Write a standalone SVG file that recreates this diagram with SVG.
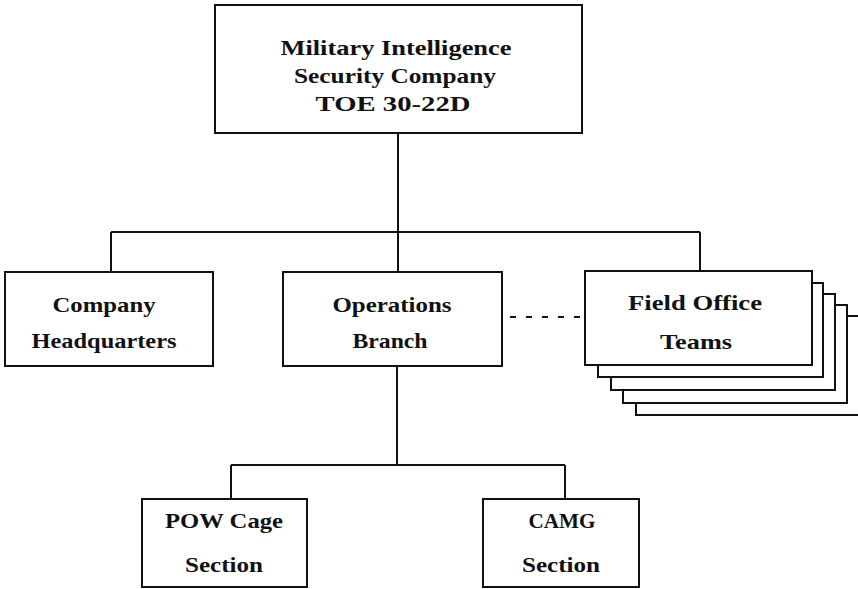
<svg xmlns="http://www.w3.org/2000/svg" width="858" height="589" viewBox="0 0 858 589">
<style>
.box{fill:#fff;stroke:#111;stroke-width:2}
.ln{fill:none;stroke:#111;stroke-width:2}
.dash{fill:none;stroke:#111;stroke-width:2;stroke-dasharray:6 10}
text{font-family:"Liberation Serif","Times New Roman",serif;font-weight:bold;font-size:22px;fill:#111;text-anchor:middle}
</style>
<rect width="858" height="589" fill="#fff"/>
<g id="connectors">
<path class="ln" d="M398 133V272M111 232H700M111 232V272M700 232V271"/>
<path class="dash" d="M510 317H585"/>
<path class="ln" d="M397 366V465M231 465H565M231 465V499M565 465V499"/>
</g>
<g id="top">
<rect class="box" x="215" y="5" width="367" height="128"/>
<text x="396" y="55" textLength="231" lengthAdjust="spacingAndGlyphs">Military Intelligence</text>
<text x="395" y="83" textLength="202" lengthAdjust="spacingAndGlyphs">Security Company</text>
<text x="393" y="111" textLength="155" lengthAdjust="spacingAndGlyphs">TOE 30-22D</text>
</g>
<g id="hq">
<rect class="box" x="5" y="272" width="208" height="94"/>
<text x="104" y="312" textLength="103" lengthAdjust="spacingAndGlyphs">Company</text>
<text x="104" y="348" textLength="145" lengthAdjust="spacingAndGlyphs">Headquarters</text>
</g>
<g id="ops">
<rect class="box" x="283" y="272" width="219" height="94"/>
<text x="392" y="312" textLength="119" lengthAdjust="spacingAndGlyphs">Operations</text>
<text x="390" y="348" textLength="75" lengthAdjust="spacingAndGlyphs">Branch</text>
</g>
<g id="field">
<rect class="box" x="636" y="316" width="226" height="99"/>
<rect class="box" x="623" y="305" width="224" height="98"/>
<rect class="box" x="611" y="294" width="224" height="96"/>
<rect class="box" x="598" y="283" width="225" height="94"/>
<rect class="box" x="585" y="271" width="227" height="94"/>
<text x="695" y="310" textLength="134" lengthAdjust="spacingAndGlyphs">Field Office</text>
<text x="696" y="349" textLength="72" lengthAdjust="spacingAndGlyphs">Teams</text>
</g>
<g id="pow">
<rect class="box" x="142" y="499" width="165" height="88"/>
<text x="224" y="528" textLength="118" lengthAdjust="spacingAndGlyphs">POW Cage</text>
<text x="224" y="572" textLength="78" lengthAdjust="spacingAndGlyphs">Section</text>
</g>
<g id="camg">
<rect class="box" x="483" y="499" width="156" height="88"/>
<text x="562" y="528" textLength="67" lengthAdjust="spacingAndGlyphs">CAMG</text>
<text x="561" y="572" textLength="78" lengthAdjust="spacingAndGlyphs">Section</text>
</g>
</svg>
